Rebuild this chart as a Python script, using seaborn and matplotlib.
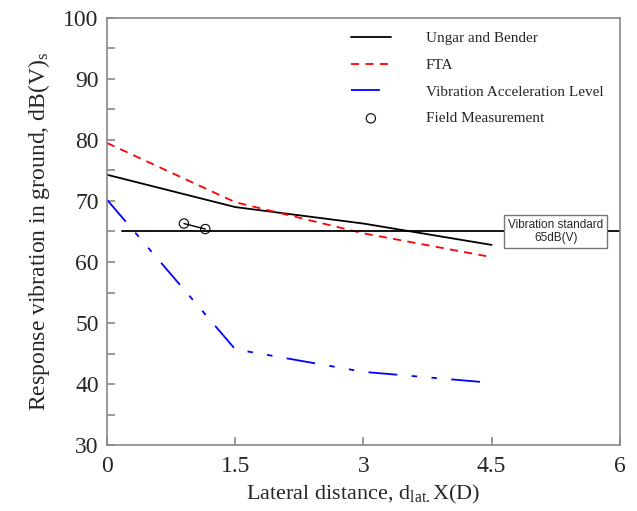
import matplotlib
matplotlib.use("Agg")
import matplotlib.pyplot as plt
import numpy as np
import pandas as pd
import seaborn as sns

sns.set_style("white")
plt.rcParams['font.family'] = ['Liberation Serif', 'DejaVu Serif']
plt.rcParams['mathtext.fontset'] = 'custom'
plt.rcParams['mathtext.rm'] = 'Liberation Serif'
plt.rcParams['mathtext.it'] = 'Liberation Serif:italic'

# Data
distance = [0, 1.5, 3, 4.5]
ungar_bender = [74.3, 69.0, 66.3, 62.8]
fta = [79.5, 69.8, 64.7, 60.8]
vib_accel = [70.2, 45.7, 42.0, 40.2]

field_x = [0.9, 1.15]
field_y = [66.3, 65.4]

standard_x = [0.18, 6.0]
standard_level = 65

df = pd.DataFrame({
    'x': distance * 3,
    'y': ungar_bender + fta + vib_accel,
    'model': ['Ungar and Bender'] * 4 + ['FTA'] * 4 + ['Vibration Acceleration Level'] * 4,
})

fig, ax = plt.subplots(figsize=(6.37, 5.11), dpi=100)
fig.subplots_adjust(left=0.168, right=0.973, top=0.965, bottom=0.129)

styles = {
    'Ungar and Bender': dict(color='black', ls='-'),
    'FTA': dict(color='red', ls=(0, (4.5, 3.5))),
    'Vibration Acceleration Level': dict(color='blue', ls=(0, (16, 8, 3, 8, 3, 8))),
}
for name, st in styles.items():
    sub = df[df['model'] == name]
    sns.lineplot(data=sub, x='x', y='y', ax=ax, color=st['color'],
                 linestyle=st['ls'], linewidth=1.3, label=name)

# vibration standard line
ax.plot(standard_x, [standard_level] * 2, color='black', lw=1.3, zorder=2)
ax.text(5.25, standard_level, 'Vibration standard\n65dB(V)', ha='center', va='center',
        fontsize=8.5, family='Liberation Sans', linespacing=1.1,
        bbox=dict(boxstyle='square,pad=0.35', fc='white', ec='#777777', lw=1), zorder=5)

# field measurement
ax.plot(field_x, field_y, color='black', lw=1, zorder=3)
sns.scatterplot(x=field_x, y=field_y, ax=ax, marker='o', s=45, facecolor='none',
                edgecolor='black', linewidth=0.8, label='Field Measurement', zorder=4)

ax.set_xlim(0, 6)
ax.set_ylim(30, 100)
ax.set_xticks([0, 1.5, 3, 4.5, 6])
ax.set_xticklabels(['0', '1.5', '3', '4.5', '6'])
ax.set_yticks(np.arange(30, 101, 10))
ax.set_yticks(np.arange(35, 100, 10), minor=True)
ax.tick_params(axis='both', which='both', direction='in', color='#888888',
               labelsize=17, bottom=True, left=True, top=False, right=False,
               length=6, width=1.2)
ax.tick_params(axis='x', which='major', pad=8)
ax.tick_params(axis='y', which='major', pad=6)
for sp in ax.spines.values():
    sp.set_color('#888888')
    sp.set_linewidth(1.2)

ax.set_xlabel(r'Lateral distance, d$_{\mathrm{lat.}}$X(D)', fontsize=16, labelpad=4)
ax.set_ylabel(r'Response vibration in ground, dB(V)$_{\mathrm{s}}$', fontsize=17, labelpad=8)

handles, labels = ax.get_legend_handles_labels()
leg = ax.legend(handles, labels, loc='upper right', frameon=False, fontsize=11,
                handlelength=2.6, handletextpad=2.3, labelspacing=0.85,
                bbox_to_anchor=(0.995, 1.0))

fig.savefig('out.png', dpi=100)
